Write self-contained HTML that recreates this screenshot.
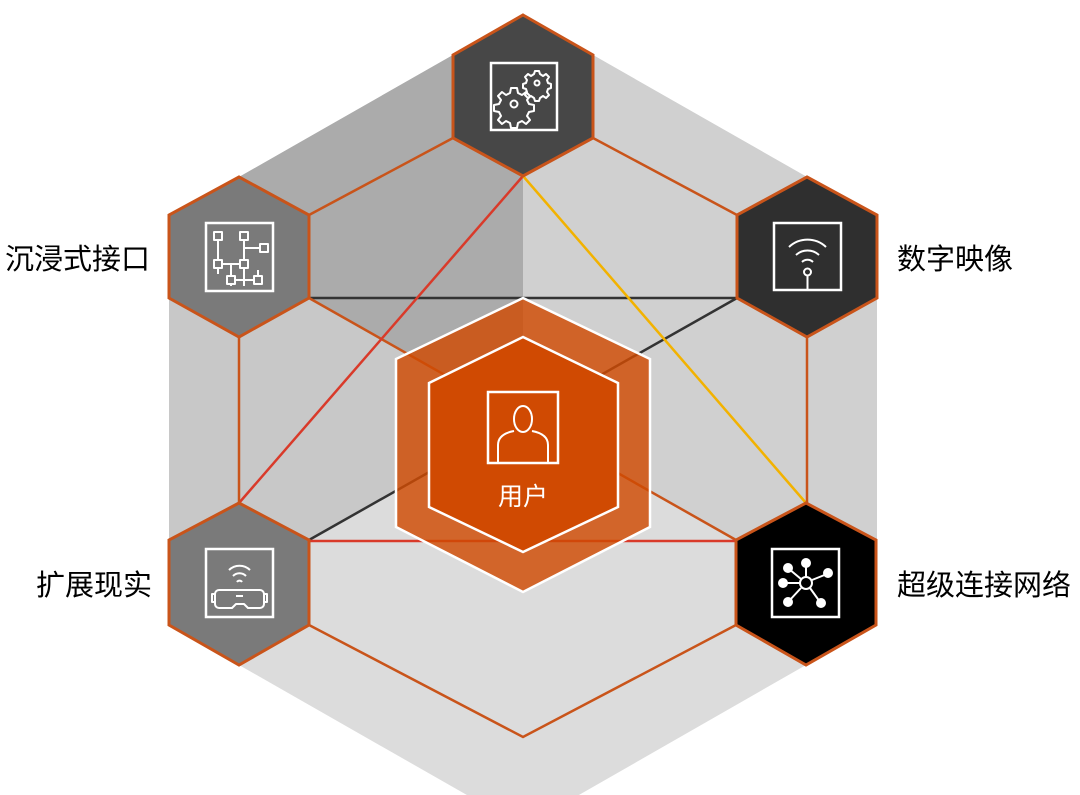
<!DOCTYPE html>
<html><head><meta charset="utf-8"><style>
html,body{margin:0;padding:0;background:#fff;width:1080px;height:795px;overflow:hidden}
svg{display:block}
text{font-family:"Liberation Sans","Noto Sans CJK SC",sans-serif}
</style></head><body>
<svg width="1080" height="795" viewBox="0 0 1080 795" xmlns="http://www.w3.org/2000/svg">
<polygon points="523,15 593,55 807,177 877,215 877,625 806,665 523,827 239,665 169,625 169,215 239,177 453,55" fill="#dcdcdc"/>
<polygon points="169,215 239,177 453,55 523,15 523,419 309,540 169,540" fill="#c8c8c8"/>
<polygon points="523,15 593,55 807,177 877,215 877,540 736,540 523,419" fill="#d0d0d0"/>
<polygon points="239,177 453,55 523,15 523,419 309,298 309,215" fill="#ababab"/>
<g stroke-width="2.5" fill="none">
<line x1="309" y1="298" x2="737" y2="298" stroke="#333"/>
<line x1="737" y1="298" x2="309" y2="540" stroke="#333"/>
<line x1="309" y1="298" x2="736" y2="540" stroke="#c9541a"/>
<line x1="309" y1="541" x2="736" y2="541" stroke="#d93a2a"/>
<line x1="523" y1="176" x2="239" y2="503" stroke="#d93a2a"/>
<line x1="523" y1="176" x2="806" y2="503" stroke="#f2b200"/>
<polyline points="453,138 309,215" stroke="#c9541a"/>
<polyline points="593,138 737,215" stroke="#c9541a"/>
<line x1="239" y1="337" x2="239" y2="503" stroke="#c9541a"/>
<line x1="807" y1="337" x2="807" y2="503" stroke="#c9541a"/>
<polyline points="309,625 523,737 736,625" stroke="#c9541a"/>
</g>
<g stroke="#c9541a" stroke-width="3">
<polygon points="523,15 593,55 593,138 523,176 453,138 453,55" fill="#474747"/>
<polygon points="239,177 309,215 309,298 239,337 169,298 169,215" fill="#7a7a7a"/>
<polygon points="807,177 877,215 877,298 807,337 737,298 737,215" fill="#2f2f2f"/>
<polygon points="239,503 309,540 309,625 239,665 169,625 169,540" fill="#7a7a7a"/>
<polygon points="806,503 876,540 876,625 806,665 736,625 736,540" fill="#000"/>
</g>
<polygon points="523,298 650,359 650,527 523,592 396,527 396,359" fill="#d04a02" fill-opacity="0.82" stroke="#fff" stroke-width="2.5"/>
<polygon points="523,337 618,383 618,507 523,552 429,507 429,383" fill="#d04a02" stroke="#fff" stroke-width="2.5"/>
<g stroke="#fff" stroke-width="2.5" fill="none">
<rect x="491" y="63" width="66" height="67"/>
<rect x="206" y="223" width="67" height="68"/>
<rect x="774" y="223" width="67" height="67"/>
<rect x="206" y="549" width="67" height="68"/>
<rect x="772" y="549" width="67" height="68"/>
<rect x="488" y="392" width="70" height="71"/>
</g>
<g stroke="#fff" stroke-width="2" fill="none" stroke-linejoin="round">
<!-- big gear -->
<path d="M511 88h6l1 5 4 2 4-3 4 4-3 4 2 4 5 1v6l-5 1-2 4 3 4-4 4-4-3-4 2-1 5h-6l-1-5-4-2-4 3-4-4 3-4-2-4-5-1v-6l5-1 2-4-3-4 4-4 4 3 4-2z"/>
<circle cx="514" cy="104" r="3.5"/>
<!-- small gear -->
<path d="M535 71h4l1 3 3 2 3-2 3 3-2 3 1 3 3 1v4l-3 1-1 3 2 3-3 3-3-2-3 2-1 3h-4l-1-3-3-2-3 2-3-3 2-3-1-3-3-1v-4l3-1 1-3-2-3 3-3 3 2 3-2z"/>
<circle cx="537" cy="83" r="2.5"/>
<!-- circuit -->
<path d="M218 236v38M218 264h26M244 236v50M244 248h20M231 264v16h27M258 280v-10M231 280v6"/>
<g fill="#7a7a7a"><rect x="214" y="232" width="8" height="8"/><rect x="240" y="232" width="8" height="8"/><rect x="260" y="244" width="8" height="8"/><rect x="214" y="260" width="8" height="8"/><rect x="240" y="260" width="8" height="8"/><rect x="227" y="276" width="8" height="8"/><rect x="254" y="276" width="8" height="8"/></g>
<path d="M789 247a27 27 0 0 1 37 0M796 255a17 17 0 0 1 23 0M802 262a8 8 0 0 1 11 0"/>
<circle cx="807.5" cy="272" r="3.5"/><line x1="807.5" y1="276" x2="807.5" y2="290"/>
<path d="M229 570a15 15 0 0 1 21 0M233 576a9 9 0 0 1 13 0M237 582a3 3 0 0 1 5 0"/>
<path d="M219 590h41a4 4 0 0 1 4 4v10a4 4 0 0 1-4 4h-12l-4-4h-8l-4 4h-13a4 4 0 0 1-4-4v-10a4 4 0 0 1 4-4zM215 594h-3v8h3M264 594h3v8h-3M236 596h7"/>
<circle cx="806" cy="583" r="6"/>
<path d="M806 577v-13M800 583h-16M812 580l15-6M810 588l10 14M801 588l-12 13M801 579l-12-10"/>
<g fill="#fff"><circle cx="806" cy="563" r="4"/><circle cx="783" cy="583" r="4"/><circle cx="828" cy="573" r="4"/><circle cx="821" cy="603" r="4"/><circle cx="788" cy="602" r="4"/><circle cx="788" cy="568" r="4"/></g>
<ellipse cx="523" cy="419" rx="9" ry="13"/>
<path d="M498 462v-17q0-11 16-14M548 462v-17q0-11-16-14"/>
</g>
<text x="523" y="505" font-size="25" fill="#fff" text-anchor="middle">用户</text>
<g font-size="29" fill="#000">
<text x="150" y="269" text-anchor="end">沉浸式接口</text>
<text x="897" y="269">数字映像</text>
<text x="152" y="595" text-anchor="end">扩展现实</text>
<text x="897" y="595">超级连接网络</text>
</g>
</svg>
</body></html>
